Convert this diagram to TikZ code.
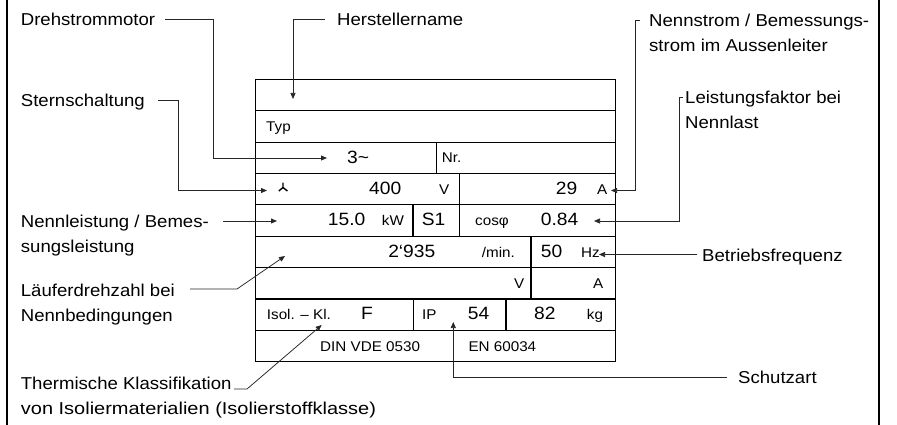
\documentclass[tikz,border=0pt]{standalone}
\usepackage{graphicx}
\usepackage{fontspec}
\setmainfont[FakeStretch=1.08]{Liberation Sans}
\usetikzlibrary{arrows.meta}
\newcommand\lgfont{\fontsize{17.8}{25}\selectfont}
\newcommand\lbfont{\fontsize{17.2}{25}\selectfont}
\newcommand\smfont{\fontsize{14.1}{16}\selectfont}
\begin{document}
\begin{tikzpicture}[x=1pt,y=-1pt,
  lbl/.style={anchor=base west,inner sep=0pt,align=left,font=\lbfont},
  big/.style={inner sep=0pt,font=\lgfont},
  sml/.style={inner sep=0pt,font=\smfont},
  tbl/.style={line width=1.1pt},
  con/.style={line width=0.75pt,draw=black!85},
  arr/.style={con,-{Triangle[length=6pt,width=5pt]}}]
\useasboundingbox (0,0) rectangle (897,425);
% frame
\draw[line width=1.4pt] (7,0) -- (7,425);
\draw[line width=1.6pt] (879,0) -- (879,425);
% table
\draw[line width=1.5pt] (255.7,79.3) rectangle (615.7,361.7);
\foreach \y in {110.7,142.1,173.4,204.8,236.2,267.6,299.0,330.3}
  \draw[tbl] (255.7,\y) -- (615.7,\y);
\draw[tbl] (436.3,142.1) -- (436.3,173.4);
\draw[tbl] (459.3,173.4) -- (459.3,236.2);
\draw[tbl] (413,204.8) -- (413,236.2);
\draw[tbl] (531,236.2) -- (531,299.0);
\draw[tbl] (413.5,299.0) -- (413.5,330.3);
\draw[tbl] (506,299.0) -- (506,330.3);
% cell texts
\node[sml,anchor=base west] (typ) at (266,131.2) {Typ};
\node[big,anchor=base west] (drei) at (347,163.5) {3\textasciitilde};
\node[sml,anchor=base west] (nr) at (441.7,162.6) {Nr.};
\draw[line width=1.4pt] (283,182.5) -- (283,187.5) (278.8,191) -- (283,187.5) -- (287.4,191);
\node[big,anchor=base east] (u) at (401.5,194.2) {400};
\node[sml,anchor=base west] (uV) at (439,194.2) {V};
\node[big,anchor=base east] (i) at (577.5,194.2) {29};
\node[sml,anchor=base west] (iA) at (597,194.2) {A};
\node[big,anchor=base east] (p) at (365.5,225.6) {15.0};
\node[sml,anchor=base west] (pkW) at (381.7,225.6) {kW};
\node[big,anchor=base west] (s1) at (421.7,225.6) {S1};
\node[sml,anchor=base west] (cos) at (475,225.6) {cosφ};
\node[big,anchor=base east] (pf) at (578.5,225.6) {0.84};
\node[big,anchor=base east] (n) at (435.5,257) {2‘935};
\node[sml,anchor=base west] (nmin) at (481.7,257) {/min.};
\node[big,anchor=base west] (f) at (540.7,257) {50};
\node[sml,anchor=base west] (fHz) at (581,257) {Hz};
\node[sml,anchor=base west] (eV) at (514,288.4) {V};
\node[sml,anchor=base west] (eA) at (593,288.4) {A};
\node[sml,anchor=base west] (isol) at (266.7,319.8) {Isol. – Kl.};
\node[big,anchor=base west] (kl) at (361,319.8) {F};
\node[sml,anchor=base west] (ip) at (422,319.8) {IP};
\node[big,anchor=base west] (ipv) at (467.7,319.8) {54};
\node[big,anchor=base west] (m) at (534,319.8) {82};
\node[sml,anchor=base west] (mkg) at (586.7,319.8) {kg};
\node[sml,anchor=base west] (din) at (320,351.1) {DIN VDE 0530};
\node[sml,anchor=base west] (en) at (468.3,351.1) {EN 60034};
% labels (base = baseline of the last line)
\node[lbl] (dreh) at (20.7,25.5) {Drehstrommotor};
\node[lbl] (herst) at (337,25.5) {Herstellername};
\node[lbl] (nennstrom) at (649,51.5) {Nennstrom / Bemessungs-\\strom im Aussenleiter};
\node[lbl] (stern) at (20.7,106.5) {Sternschaltung};
\node[lbl] (leist) at (685,128.5) {Leistungsfaktor bei\\Nennlast};
\node[lbl] (nennl) at (20.7,252.5) {Nennleistung / Bemes-\\sungsleistung};
\node[lbl] (freq) at (702,261) {Betriebsfrequenz};
\node[lbl] (laeufer) at (20.7,321.5) {Läuferdrehzahl bei\\Nennbedingungen};
\node[lbl] (schutz) at (738,383.5) {Schutzart};
\node[lbl] (therm) at (20.7,414) {Thermische Klassifikation\\\scalebox{1.076}[1]{von Isoliermaterialien (Isolierstoffklasse)}};
% connector coordinates
\coordinate (s-herst) at (325,19);   \coordinate (t-herst) at (293,99);
\coordinate (s-dreh) at (165,19);    \coordinate (t-dreh) at (327,158);
\coordinate (s-stern) at (158,100);  \coordinate (t-stern) at (267,190.5);
\coordinate (s-nennl) at (223,221);  \coordinate (t-nennl) at (277,221);
\coordinate (s-lauf) at (190,289);   \coordinate (t-lauf) at (285,256);
\coordinate (s-therm) at (234,389);  \coordinate (t-therm) at (321.7,325);
\coordinate (s-strom) at (640,20);   \coordinate (t-strom) at (611,190.5);
\coordinate (s-leist) at (683,97);   \coordinate (t-leist) at (594,221);
\coordinate (s-freq) at (697,254.5); \coordinate (t-freq) at (599,254.5);
\coordinate (s-schutz) at (727,377); \coordinate (t-schutz) at (453.3,322);
% connectors
\draw[arr] (s-herst) -| (t-herst);
\draw[arr] (s-dreh) -- (213,19) |- (t-dreh);
\draw[arr] (s-stern) -- (178,100) |- (t-stern);
\draw[arr] (s-nennl) -- (t-nennl);
\draw[arr] (s-lauf) -- (237,289) -- (t-lauf);
\draw[arr] (s-therm) -- (247,389) -- (t-therm);
\draw[arr] (s-strom) -- (635,20) |- (t-strom);
\draw[arr] (s-leist) -- (679,97) |- (t-leist);
\draw[arr] (s-freq) -- (t-freq);
\draw[arr] (s-schutz) -| (t-schutz);
\end{tikzpicture}
\end{document}
